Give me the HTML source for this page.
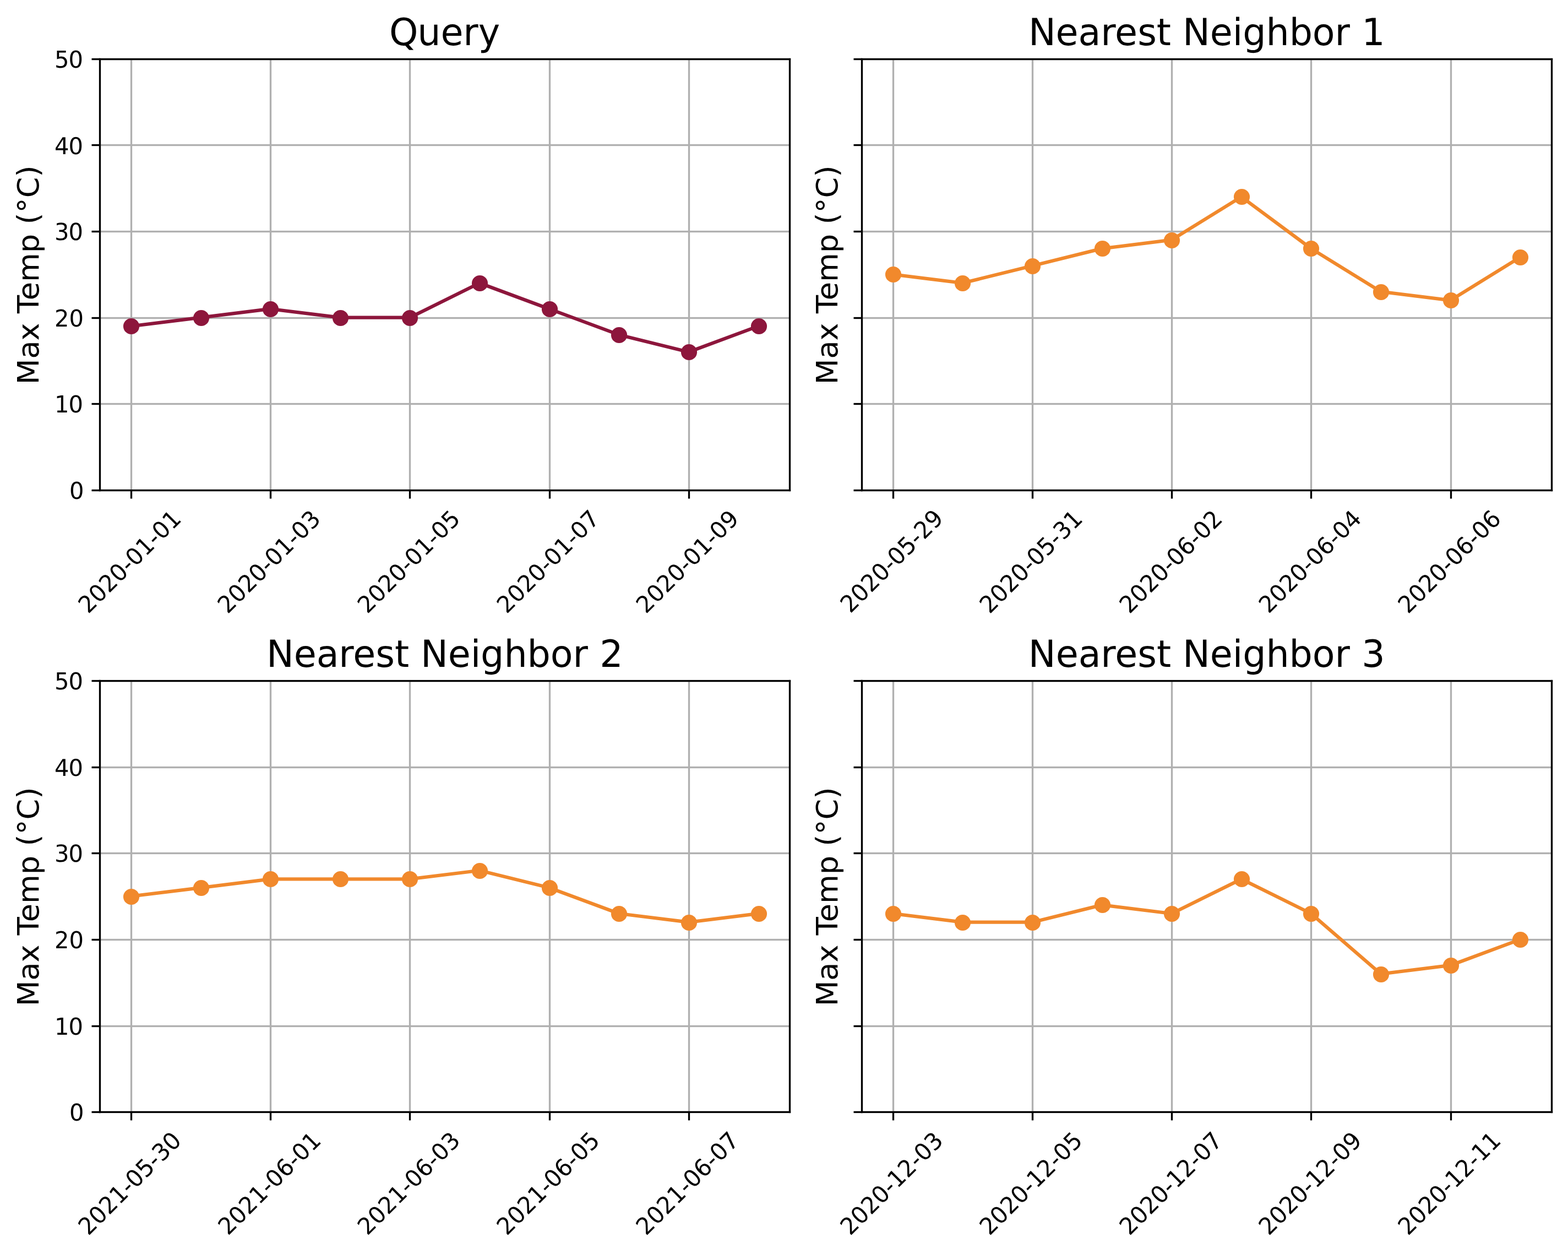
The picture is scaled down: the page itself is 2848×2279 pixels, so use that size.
<!DOCTYPE html>
<html lang="en">
<head>
<meta charset="utf-8">
<title>Query and Nearest Neighbors</title>
<style>html,body{margin:0;padding:0;background:#fff}svg{display:block}</style>
</head>
<body>
<svg width="2848" height="2279" viewBox="0 0 2848 2279" font-family="'DejaVu Sans', 'Liberation Sans', sans-serif" fill="#000">
<defs><clipPath id="c1"><rect x="181" y="107" width="1253" height="783"/></clipPath><clipPath id="c2"><rect x="1565" y="107" width="1253" height="783"/></clipPath><clipPath id="c3"><rect x="181" y="1236" width="1253" height="783"/></clipPath><clipPath id="c4"><rect x="1565" y="1236" width="1253" height="783"/></clipPath></defs>
<rect width="2848" height="2279" fill="#fff"/>
<g class="axes" id="axes1">
<rect x="236.833" y="105.833" width="3.333" height="786.333" fill="#b0b0b0" clip-path="url(#c1)"/>
<rect x="236.833" y="890.5" width="3.333" height="15" fill="#000000"/>
<text x="160.206" y="1115.821" font-size="41.667" text-rendering="geometricPrecision" transform="rotate(-45 160.206 1115.821) matrix(1 0 0 1.02 0 -22.316)">2020-01-01</text>
<rect x="489.833" y="105.833" width="3.333" height="786.333" fill="#b0b0b0" clip-path="url(#c1)"/>
<rect x="489.833" y="890.5" width="3.333" height="15" fill="#000000"/>
<text x="413.503" y="1116.108" font-size="41.667" text-rendering="geometricPrecision" transform="rotate(-45 413.503 1116.108) matrix(1 0 0 1.03 0 -33.483)">2020-01-03</text>
<rect x="742.833" y="105.833" width="3.333" height="786.333" fill="#b0b0b0" clip-path="url(#c1)"/>
<rect x="742.833" y="890.5" width="3.333" height="15" fill="#000000"/>
<text x="667.178" y="1115.793" font-size="41.667" text-rendering="geometricPrecision" transform="rotate(-45 667.178 1115.793) matrix(1 0 0 1.01 0 -11.158)">2020-01-05</text>
<rect x="996.833" y="105.833" width="3.333" height="786.333" fill="#b0b0b0" clip-path="url(#c1)"/>
<rect x="996.833" y="890.5" width="3.333" height="15" fill="#000000"/>
<text x="920.185" y="1115.756" font-size="41.667" text-rendering="geometricPrecision" transform="rotate(-45 920.185 1115.756) matrix(1 0 0 1.01 0 -11.158)">2020-01-07</text>
<rect x="1249.833" y="105.833" width="3.333" height="786.333" fill="#b0b0b0" clip-path="url(#c1)"/>
<rect x="1249.833" y="890.5" width="3.333" height="15" fill="#000000"/>
<text x="1173.186" y="1115.713" font-size="41.667" text-rendering="geometricPrecision" transform="rotate(-45 1173.186 1115.713) matrix(1 0 0 1.01 0 -11.157)">2020-01-09</text>
<rect x="179.833" y="888.833" width="1256.333" height="3.333" fill="#b0b0b0" clip-path="url(#c1)"/>
<rect x="166.5" y="888.833" width="15" height="3.333" fill="#000000"/>
<text x="126.042" y="906" font-size="41.667" text-rendering="geometricPrecision" transform="matrix(1 0 0 1.02 0 -18.12)">0</text>
<rect x="179.833" y="731.833" width="1256.333" height="3.333" fill="#b0b0b0" clip-path="url(#c1)"/>
<rect x="166.5" y="731.833" width="15" height="3.333" fill="#000000"/>
<text x="98.875 124.49" y="749" font-size="41.667" text-rendering="geometricPrecision" transform="matrix(1 0 0 1.02 0 -14.98)">10</text>
<rect x="179.833" y="575.833" width="1256.333" height="3.333" fill="#b0b0b0" clip-path="url(#c1)"/>
<rect x="166.5" y="575.833" width="15" height="3.333" fill="#000000"/>
<text x="98.884 125.384" y="593" font-size="41.667" text-rendering="geometricPrecision" transform="matrix(1 0 0 1.02 0 -11.86)">20</text>
<rect x="179.833" y="418.833" width="1256.333" height="3.333" fill="#b0b0b0" clip-path="url(#c1)"/>
<rect x="166.5" y="418.833" width="15" height="3.333" fill="#000000"/>
<text x="99.046 124.545" y="436" font-size="41.667" text-rendering="geometricPrecision" transform="matrix(1 0 0 1.03 0 -13.08)">30</text>
<rect x="179.833" y="261.833" width="1256.333" height="3.333" fill="#b0b0b0" clip-path="url(#c1)"/>
<rect x="166.5" y="261.833" width="15" height="3.333" fill="#000000"/>
<text x="99.062 124.624" y="280" font-size="41.667" text-rendering="geometricPrecision" transform="matrix(1 0 0 1.01 0 -2.8)">40</text>
<rect x="179.833" y="105.833" width="1256.333" height="3.333" fill="#b0b0b0" clip-path="url(#c1)"/>
<rect x="166.5" y="105.833" width="15" height="3.333" fill="#000000"/>
<text x="98.988 124.489" y="123" font-size="41.667" text-rendering="geometricPrecision" transform="matrix(1 0 0 1.02 0 -2.46)">50</text>
<text x="70" y="698.3" font-size="54.167" transform="rotate(-90 70 698.3)">Max Temp (°C)</text>
<path d="M237.937 592.273 L364.555 576.617 L491.173 560.961 L617.791 576.617 L744.41 576.617 L871.028 513.994 L997.646 560.961 L1124.264 607.929 L1250.883 639.241 L1377.501 592.273" stroke="#8d163c" stroke-width="6.25" stroke-linecap="square" stroke-linejoin="round" fill="none" clip-path="url(#c1)"/>
<g fill="#8d163c" stroke="#8d163c" stroke-width="4.167" clip-path="url(#c1)"><circle cx="238.5" cy="592.5" r="12.5"/><circle cx="365.5" cy="577.5" r="12.5"/><circle cx="491.5" cy="561.5" r="12.5"/><circle cx="618.5" cy="577.5" r="12.5"/><circle cx="744.5" cy="577.5" r="12.5"/><circle cx="871.5" cy="514.5" r="12.5"/><circle cx="998.5" cy="561.5" r="12.5"/><circle cx="1124.5" cy="608.5" r="12.5"/><circle cx="1251.5" cy="639.5" r="12.5"/><circle cx="1378.5" cy="592.5" r="12.5"/></g>
<rect x="179.833" y="105.833" width="3.333" height="786.333" fill="#000000"/>
<rect x="1432.833" y="105.833" width="3.333" height="786.333" fill="#000000"/>
<rect x="179.833" y="888.833" width="1256.333" height="3.333" fill="#000000"/>
<rect x="179.833" y="105.833" width="1256.333" height="3.333" fill="#000000"/>
<text x="707.01 758.313 800.424 841.186 868.709" y="82" font-size="66.667" text-rendering="geometricPrecision" transform="matrix(1 0 0 1.02 0 -1.64)">Query</text>
</g>
<g class="axes" id="axes2">
<rect x="1620.833" y="105.833" width="3.333" height="786.333" fill="#b0b0b0" clip-path="url(#c2)"/>
<rect x="1620.833" y="890.5" width="3.333" height="15" fill="#000000"/>
<text x="1544.532" y="1114.964" font-size="41.667" text-rendering="geometricPrecision" transform="rotate(-45 1544.532 1114.964) matrix(1 0 0 1.03 0 -33.449)">2020-05-29</text>
<rect x="1873.833" y="105.833" width="3.333" height="786.333" fill="#b0b0b0" clip-path="url(#c2)"/>
<rect x="1873.833" y="890.5" width="3.333" height="15" fill="#000000"/>
<text x="1797.535" y="1115.96" font-size="41.667" text-rendering="geometricPrecision" transform="rotate(-45 1797.535 1115.96) matrix(1 0 0 1.03 0 -33.479)">2020-05-31</text>
<rect x="2126.833" y="105.833" width="3.333" height="786.333" fill="#b0b0b0" clip-path="url(#c2)"/>
<rect x="2126.833" y="890.5" width="3.333" height="15" fill="#000000"/>
<text x="2051.535" y="1116.052" font-size="41.667" text-rendering="geometricPrecision" transform="rotate(-45 2051.535 1116.052) matrix(1 0 0 1.03 0 -33.482)">2020-06-02</text>
<rect x="2379.833" y="105.833" width="3.333" height="786.333" fill="#b0b0b0" clip-path="url(#c2)"/>
<rect x="2379.833" y="890.5" width="3.333" height="15" fill="#000000"/>
<text x="2304.158" y="1115.605" font-size="41.667" text-rendering="geometricPrecision" transform="rotate(-45 2304.158 1115.605) matrix(1 0 0 1.01 0 -11.156)">2020-06-04</text>
<rect x="2633.833" y="105.833" width="3.333" height="786.333" fill="#b0b0b0" clip-path="url(#c2)"/>
<rect x="2633.833" y="890.5" width="3.333" height="15" fill="#000000"/>
<text x="2557.522" y="1115.937" font-size="41.667" text-rendering="geometricPrecision" transform="rotate(-45 2557.522 1115.937) matrix(1 0 0 1.03 0 -33.478)">2020-06-06</text>
<rect x="1563.833" y="888.833" width="1256.333" height="3.333" fill="#b0b0b0" clip-path="url(#c2)"/>
<rect x="1550.5" y="888.833" width="15" height="3.333" fill="#000000"/>
<rect x="1563.833" y="731.833" width="1256.333" height="3.333" fill="#b0b0b0" clip-path="url(#c2)"/>
<rect x="1550.5" y="731.833" width="15" height="3.333" fill="#000000"/>
<rect x="1563.833" y="575.833" width="1256.333" height="3.333" fill="#b0b0b0" clip-path="url(#c2)"/>
<rect x="1550.5" y="575.833" width="15" height="3.333" fill="#000000"/>
<rect x="1563.833" y="418.833" width="1256.333" height="3.333" fill="#b0b0b0" clip-path="url(#c2)"/>
<rect x="1550.5" y="418.833" width="15" height="3.333" fill="#000000"/>
<rect x="1563.833" y="261.833" width="1256.333" height="3.333" fill="#b0b0b0" clip-path="url(#c2)"/>
<rect x="1550.5" y="261.833" width="15" height="3.333" fill="#000000"/>
<rect x="1563.833" y="105.833" width="1256.333" height="3.333" fill="#b0b0b0" clip-path="url(#c2)"/>
<rect x="1550.5" y="105.833" width="15" height="3.333" fill="#000000"/>
<text x="1521" y="698.301" font-size="54.167" transform="rotate(-90 1521 698.301)">Max Temp (°C)</text>
<path d="M1621.707 498.338 L1748.326 513.994 L1874.944 482.682 L2001.562 451.37 L2128.18 435.714 L2254.799 357.434 L2381.417 451.37 L2508.035 529.65 L2634.654 545.305 L2761.272 467.026" stroke="#f1892c" stroke-width="6.25" stroke-linecap="square" stroke-linejoin="round" fill="none" clip-path="url(#c2)"/>
<g fill="#f1892c" stroke="#f1892c" stroke-width="4.167" clip-path="url(#c2)"><circle cx="1622.5" cy="498.5" r="12.5"/><circle cx="1748.5" cy="514.5" r="12.5"/><circle cx="1875.5" cy="483.5" r="12.5"/><circle cx="2002.5" cy="451.5" r="12.5"/><circle cx="2128.5" cy="436.5" r="12.5"/><circle cx="2255.5" cy="357.5" r="12.5"/><circle cx="2381.5" cy="451.5" r="12.5"/><circle cx="2508.5" cy="530.5" r="12.5"/><circle cx="2635.5" cy="545.5" r="12.5"/><circle cx="2761.5" cy="467.5" r="12.5"/></g>
<rect x="1563.833" y="105.833" width="3.333" height="786.333" fill="#000000"/>
<rect x="2816.833" y="105.833" width="3.333" height="786.333" fill="#000000"/>
<rect x="1563.833" y="888.833" width="1256.333" height="3.333" fill="#000000"/>
<rect x="1563.833" y="105.833" width="1256.333" height="3.333" fill="#000000"/>
<text x="1867.942 1917.593 1958.606 1999.233 2025.085 2066.321 2100.829 2126.954 2148.074 2197.763 2238.692 2257.192 2299.408 2341.636 2383.841 2424.403 2451.81 2473.125" y="82" font-size="66.667" text-rendering="geometricPrecision" transform="matrix(1 0 0 1.02 0 -1.64)">Nearest Neighbor 1</text>
</g>
<g class="axes" id="axes3">
<rect x="236.833" y="1234.833" width="3.333" height="786.333" fill="#b0b0b0" clip-path="url(#c3)"/>
<rect x="236.833" y="2019.5" width="3.333" height="15" fill="#000000"/>
<text x="160.513" y="2245.014" font-size="41.667" text-rendering="geometricPrecision" transform="rotate(-45 160.513 2245.014) matrix(1 0 0 1.03 0 -67.35)">2021-05-30</text>
<rect x="489.833" y="1234.833" width="3.333" height="786.333" fill="#b0b0b0" clip-path="url(#c3)"/>
<rect x="489.833" y="2019.5" width="3.333" height="15" fill="#000000"/>
<text x="414.353" y="2244.862" font-size="41.667" text-rendering="geometricPrecision" transform="rotate(-45 414.353 2244.862) matrix(1 0 0 1.02 0 -44.897)">2021-06-01</text>
<rect x="742.833" y="1234.833" width="3.333" height="786.333" fill="#b0b0b0" clip-path="url(#c3)"/>
<rect x="742.833" y="2019.5" width="3.333" height="15" fill="#000000"/>
<text x="667.168" y="2244.809" font-size="41.667" text-rendering="geometricPrecision" transform="rotate(-45 667.168 2244.809) matrix(1 0 0 1.01 0 -22.448)">2021-06-03</text>
<rect x="996.833" y="1234.833" width="3.333" height="786.333" fill="#b0b0b0" clip-path="url(#c3)"/>
<rect x="996.833" y="2019.5" width="3.333" height="15" fill="#000000"/>
<text x="920.497" y="2245.009" font-size="41.667" text-rendering="geometricPrecision" transform="rotate(-45 920.497 2245.009) matrix(1 0 0 1.03 0 -67.35)">2021-06-05</text>
<rect x="1249.833" y="1234.833" width="3.333" height="786.333" fill="#b0b0b0" clip-path="url(#c3)"/>
<rect x="1249.833" y="2019.5" width="3.333" height="15" fill="#000000"/>
<text x="1173.515" y="2245.058" font-size="41.667" text-rendering="geometricPrecision" transform="rotate(-45 1173.515 2245.058) matrix(1 0 0 1.03 0 -67.352)">2021-06-07</text>
<rect x="179.833" y="2017.833" width="1256.333" height="3.333" fill="#b0b0b0" clip-path="url(#c3)"/>
<rect x="166.5" y="2017.833" width="15" height="3.333" fill="#000000"/>
<text x="126.042" y="2035" font-size="41.667" text-rendering="geometricPrecision" transform="matrix(1 0 0 1.02 0 -40.7)">0</text>
<rect x="179.833" y="1861.833" width="1256.333" height="3.333" fill="#b0b0b0" clip-path="url(#c3)"/>
<rect x="166.5" y="1861.833" width="15" height="3.333" fill="#000000"/>
<text x="98.875 124.49" y="1879" font-size="41.667" text-rendering="geometricPrecision" transform="matrix(1 0 0 1.02 0 -37.58)">10</text>
<rect x="179.833" y="1704.833" width="1256.333" height="3.333" fill="#b0b0b0" clip-path="url(#c3)"/>
<rect x="166.5" y="1704.833" width="15" height="3.333" fill="#000000"/>
<text x="98.884 125.384" y="1722" font-size="41.667" text-rendering="geometricPrecision" transform="matrix(1 0 0 1.02 0 -34.44)">20</text>
<rect x="179.833" y="1547.833" width="1256.333" height="3.333" fill="#b0b0b0" clip-path="url(#c3)"/>
<rect x="166.5" y="1547.833" width="15" height="3.333" fill="#000000"/>
<text x="99.046 124.545" y="1565" font-size="41.667" text-rendering="geometricPrecision" transform="matrix(1 0 0 1.03 0 -46.95)">30</text>
<rect x="179.833" y="1391.833" width="1256.333" height="3.333" fill="#b0b0b0" clip-path="url(#c3)"/>
<rect x="166.5" y="1391.833" width="15" height="3.333" fill="#000000"/>
<text x="99.062 124.624" y="1409" font-size="41.667" text-rendering="geometricPrecision" transform="matrix(1 0 0 1.01 0 -14.09)">40</text>
<rect x="179.833" y="1234.833" width="1256.333" height="3.333" fill="#b0b0b0" clip-path="url(#c3)"/>
<rect x="166.5" y="1234.833" width="15" height="3.333" fill="#000000"/>
<text x="98.988 124.489" y="1252" font-size="41.667" text-rendering="geometricPrecision" transform="matrix(1 0 0 1.02 0 -25.04)">50</text>
<text x="70" y="1827.326" font-size="54.167" transform="rotate(-90 70 1827.326)">Max Temp (°C)</text>
<path d="M237.937 1627.705 L364.555 1612.049 L491.173 1596.393 L617.791 1596.393 L744.41 1596.393 L871.028 1580.737 L997.646 1612.049 L1124.264 1659.017 L1250.883 1674.673 L1377.501 1659.017" stroke="#f1892c" stroke-width="6.25" stroke-linecap="square" stroke-linejoin="round" fill="none" clip-path="url(#c3)"/>
<g fill="#f1892c" stroke="#f1892c" stroke-width="4.167" clip-path="url(#c3)"><circle cx="238.5" cy="1628.5" r="12.5"/><circle cx="365.5" cy="1612.5" r="12.5"/><circle cx="491.5" cy="1596.5" r="12.5"/><circle cx="618.5" cy="1596.5" r="12.5"/><circle cx="744.5" cy="1596.5" r="12.5"/><circle cx="871.5" cy="1581.5" r="12.5"/><circle cx="998.5" cy="1612.5" r="12.5"/><circle cx="1124.5" cy="1659.5" r="12.5"/><circle cx="1251.5" cy="1675.5" r="12.5"/><circle cx="1378.5" cy="1659.5" r="12.5"/></g>
<rect x="179.833" y="1234.833" width="3.333" height="786.333" fill="#000000"/>
<rect x="1432.833" y="1234.833" width="3.333" height="786.333" fill="#000000"/>
<rect x="179.833" y="2017.833" width="1256.333" height="3.333" fill="#000000"/>
<rect x="179.833" y="1234.833" width="1256.333" height="3.333" fill="#000000"/>
<text x="483.974 533.647 574.654 615.288 641.143 682.297 716.91 743.035 764.085 813.817 854.691 873.121 915.378 957.604 999.732 1040.385 1067.792 1089.205" y="1211" font-size="66.667" text-rendering="geometricPrecision" transform="matrix(1 0 0 1.02 0 -24.22)">Nearest Neighbor 2</text>
</g>
<g class="axes" id="axes4">
<rect x="1620.833" y="1234.833" width="3.333" height="786.333" fill="#b0b0b0" clip-path="url(#c4)"/>
<rect x="1620.833" y="2019.5" width="3.333" height="15" fill="#000000"/>
<text x="1544.273" y="2244.956" font-size="41.667" text-rendering="geometricPrecision" transform="rotate(-45 1544.273 2244.956) matrix(1 0 0 1.02 0 -44.899)">2020-12-03</text>
<rect x="1873.833" y="1234.833" width="3.333" height="786.333" fill="#b0b0b0" clip-path="url(#c4)"/>
<rect x="1873.833" y="2019.5" width="3.333" height="15" fill="#000000"/>
<text x="1797.276" y="2244.965" font-size="41.667" text-rendering="geometricPrecision" transform="rotate(-45 1797.276 2244.965) matrix(1 0 0 1.02 0 -44.899)">2020-12-05</text>
<rect x="2126.833" y="1234.833" width="3.333" height="786.333" fill="#b0b0b0" clip-path="url(#c4)"/>
<rect x="2126.833" y="2019.5" width="3.333" height="15" fill="#000000"/>
<text x="2051.492" y="2245.089" font-size="41.667" text-rendering="geometricPrecision" transform="rotate(-45 2051.492 2245.089) matrix(1 0 0 1.03 0 -67.353)">2020-12-07</text>
<rect x="2379.833" y="1234.833" width="3.333" height="786.333" fill="#b0b0b0" clip-path="url(#c4)"/>
<rect x="2379.833" y="2019.5" width="3.333" height="15" fill="#000000"/>
<text x="2304.483" y="2244.97" font-size="41.667" text-rendering="geometricPrecision" transform="rotate(-45 2304.483 2244.97) matrix(1 0 0 1.03 0 -67.349)">2020-12-09</text>
<rect x="2633.833" y="1234.833" width="3.333" height="786.333" fill="#b0b0b0" clip-path="url(#c4)"/>
<rect x="2633.833" y="2019.5" width="3.333" height="15" fill="#000000"/>
<text x="2557.4" y="2245.01" font-size="41.667" text-rendering="geometricPrecision" transform="rotate(-45 2557.4 2245.01) matrix(1 0 0 1.03 0 -67.35)">2020-12-11</text>
<rect x="1563.833" y="2017.833" width="1256.333" height="3.333" fill="#b0b0b0" clip-path="url(#c4)"/>
<rect x="1550.5" y="2017.833" width="15" height="3.333" fill="#000000"/>
<rect x="1563.833" y="1861.833" width="1256.333" height="3.333" fill="#b0b0b0" clip-path="url(#c4)"/>
<rect x="1550.5" y="1861.833" width="15" height="3.333" fill="#000000"/>
<rect x="1563.833" y="1704.833" width="1256.333" height="3.333" fill="#b0b0b0" clip-path="url(#c4)"/>
<rect x="1550.5" y="1704.833" width="15" height="3.333" fill="#000000"/>
<rect x="1563.833" y="1547.833" width="1256.333" height="3.333" fill="#b0b0b0" clip-path="url(#c4)"/>
<rect x="1550.5" y="1547.833" width="15" height="3.333" fill="#000000"/>
<rect x="1563.833" y="1391.833" width="1256.333" height="3.333" fill="#b0b0b0" clip-path="url(#c4)"/>
<rect x="1550.5" y="1391.833" width="15" height="3.333" fill="#000000"/>
<rect x="1563.833" y="1234.833" width="1256.333" height="3.333" fill="#b0b0b0" clip-path="url(#c4)"/>
<rect x="1550.5" y="1234.833" width="15" height="3.333" fill="#000000"/>
<text x="1521" y="1827.352" font-size="54.167" transform="rotate(-90 1521 1827.352)">Max Temp (°C)</text>
<path d="M1621.707 1659.017 L1748.326 1674.673 L1874.944 1674.673 L2001.562 1643.361 L2128.18 1659.017 L2254.799 1596.393 L2381.417 1659.017 L2508.035 1768.608 L2634.654 1752.953 L2761.272 1705.985" stroke="#f1892c" stroke-width="6.25" stroke-linecap="square" stroke-linejoin="round" fill="none" clip-path="url(#c4)"/>
<g fill="#f1892c" stroke="#f1892c" stroke-width="4.167" clip-path="url(#c4)"><circle cx="1622.5" cy="1659.5" r="12.5"/><circle cx="1748.5" cy="1675.5" r="12.5"/><circle cx="1875.5" cy="1675.5" r="12.5"/><circle cx="2002.5" cy="1643.5" r="12.5"/><circle cx="2128.5" cy="1659.5" r="12.5"/><circle cx="2255.5" cy="1596.5" r="12.5"/><circle cx="2381.5" cy="1659.5" r="12.5"/><circle cx="2508.5" cy="1769.5" r="12.5"/><circle cx="2635.5" cy="1753.5" r="12.5"/><circle cx="2761.5" cy="1706.5" r="12.5"/></g>
<rect x="1563.833" y="1234.833" width="3.333" height="786.333" fill="#000000"/>
<rect x="2816.833" y="1234.833" width="3.333" height="786.333" fill="#000000"/>
<rect x="1563.833" y="2017.833" width="1256.333" height="3.333" fill="#000000"/>
<rect x="1563.833" y="1234.833" width="1256.333" height="3.333" fill="#000000"/>
<text x="1867.847 1917.665 1958.671 1999.209 2025.204 2066.315 2100.928 2127.053 2148.015 2197.836 2238.709 2257.139 2299.396 2341.622 2383.75 2424.404 2451.81 2473.373" y="1211" font-size="66.667" text-rendering="geometricPrecision" transform="matrix(1 0 0 1.02 0 -24.22)">Nearest Neighbor 3</text>
</g>
</svg>
</body>
</html>
